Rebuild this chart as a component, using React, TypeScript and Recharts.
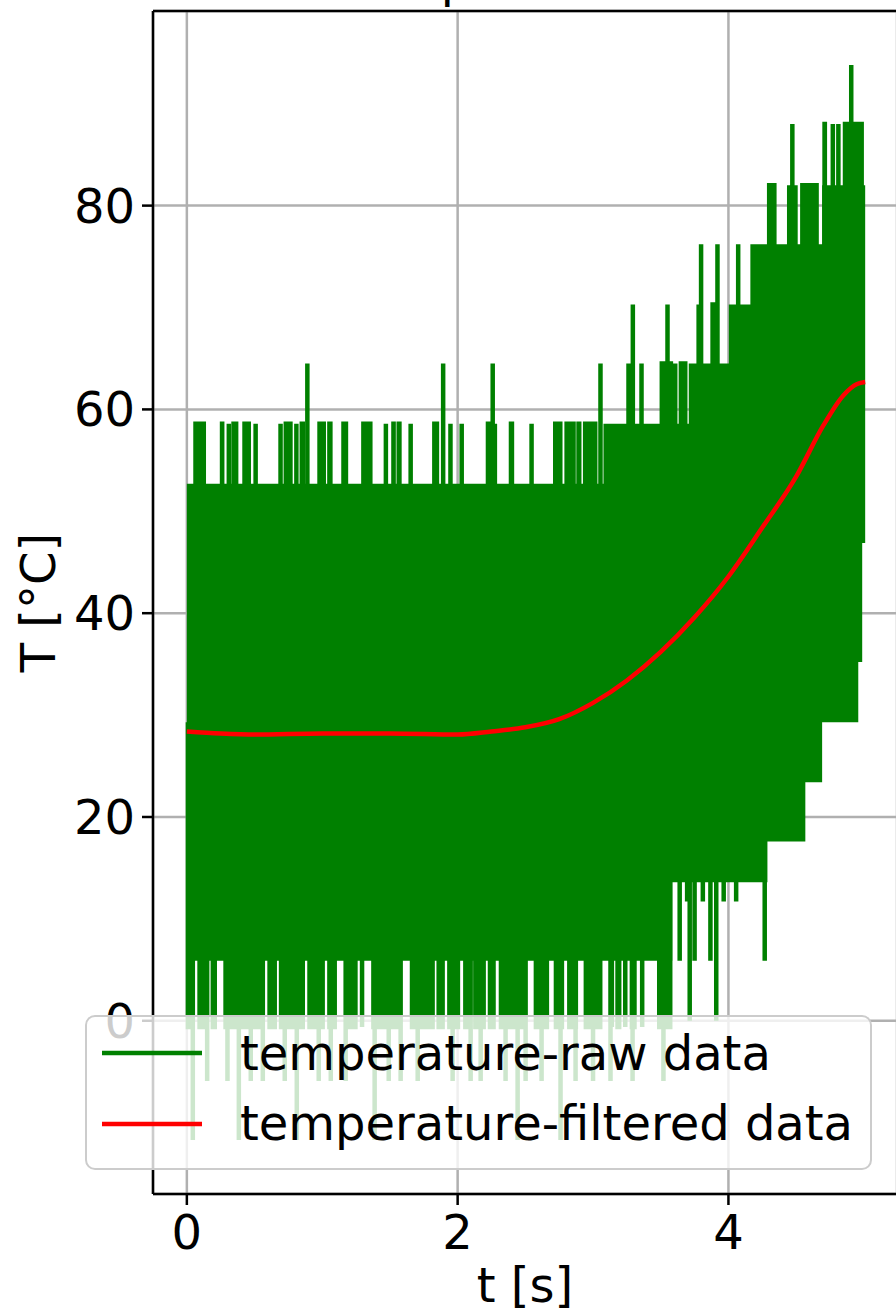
import {
  Area,
  CartesianGrid,
  ComposedChart,
  Legend,
  Line,
  ReferenceLine,
  XAxis,
  YAxis,
} from 'recharts'

const FONT = 'DejaVu Sans'
const GREEN = '#008000'
const RED = '#ff0000'

const xTicks = [0, 2, 4]
const yTicks = [0, 20, 40, 60, 80]
const xDomain: [number, number] = [-0.25, 5.245]
const yDomain: [number, number] = [-17, 99.1]

// solid body of the raw signal, as steps (t [s], lower / upper level [°C])
const coreT = [0, 3.077, 3.585, 3.707, 4.003, 4.162, 4.288, 4.568, 4.692, 4.959, 4.988, 5.01]
const coreLo = [5.9, 5.9, 13.6, 13.6, 13.6, 13.6, 17.6, 23.4, 29.3, 35.2, 46.9, 46.9]
const coreHi = [52.7, 58.6, 58.6, 64.5, 70.3, 76.2, 76.2, 76.2, 82.0, 82.0, 82.0, 82.0]

// raw samples sticking out above the body
const upStart = [
  0.064, 0.26, 0.31, 0.345, 0.426, 0.508, 0.692, 0.731, 0.809, 0.849, 0.89, 0.98, 1.053,
  1.157, 1.304, 1.47, 1.526, 1.565, 1.653, 1.828, 1.893, 1.947, 2.03, 2.224, 2.259, 2.275,
  2.394, 2.546, 2.721, 2.805, 2.893, 2.942, 3.055, 3.262, 3.294, 3.358, 3.508, 3.55, 3.57,
  3.607, 3.649, 3.78, 3.798, 3.883, 3.919, 4.072, 4.301, 4.449, 4.472, 4.495, 4.546, 4.71,
  4.771, 4.812, 4.861, 4.907, 4.93,
]
const upEnd = [
  0.125, 0.261, 0.31, 0.364, 0.457, 0.508, 0.692, 0.765, 0.809, 0.856, 0.89, 1.011, 1.06,
  1.175, 1.355, 1.47, 1.527, 1.57, 1.653, 1.847, 1.893, 1.947, 2.03, 2.24, 2.259, 2.275,
  2.401, 2.546, 2.758, 2.856, 2.898, 3.016, 3.055, 3.262, 3.294, 3.358, 3.53, 3.55, 3.575,
  3.607, 3.681, 3.78, 3.798, 3.89, 3.919, 4.072, 4.339, 4.449, 4.472, 4.495, 4.651, 4.712,
  4.771, 4.812, 4.885, 4.907, 4.984,
]
const upPeak = [
  58.6, 58.6, 58.6, 58.6, 58.6, 58.6, 58.6, 58.6, 58.6, 58.6, 64.5, 58.6, 58.6,
  58.6, 58.6, 58.6, 58.6, 58.6, 58.6, 58.6, 64.5, 58.6, 58.6, 58.6, 64.5, 58.6,
  58.6, 58.6, 58.6, 58.6, 58.6, 58.6, 64.5, 64.5, 70.3, 64.5, 64.5, 70.3, 64.5,
  64.5, 64.5, 70.3, 76.2, 70.3, 76.2, 76.2, 82.0, 82.0, 88.0, 82.0, 82.0, 88.0,
  88.0, 88.0, 88.0, 93.8, 88.0,
]

// raw samples dropping below the body
const downStart = [
  0.008, 0.094, 0.192, 0.286, 0.611, 0.696, 0.906, 1.053, 1.188, 1.294, 1.378, 1.663, 1.86,
  1.939, 2.057, 2.131, 2.239, 2.32, 2.382, 2.578, 2.726, 2.825, 2.947, 3.139, 3.181, 3.238,
  3.287, 3.363, 3.489, 3.64, 3.695, 3.714, 3.75, 3.811, 3.867, 3.91, 3.965, 4.057, 4.268,
]
const downEnd = [
  0.039, 0.142, 0.206, 0.531, 0.649, 0.856, 1.003, 1.092, 1.245, 1.294, 1.57, 1.815, 1.889,
  2.002, 2.076, 2.192, 2.265, 2.327, 2.499, 2.659, 2.77, 2.873, 3.053, 3.139, 3.193, 3.238,
  3.306, 3.363, 3.57, 3.64, 3.695, 3.714, 3.75, 3.811, 3.867, 3.91, 3.965, 4.057, 4.268,
]
const downPeak = [
  -0.6, -0.6, -0.6, -0.6, -0.6, -0.6, -0.6, -0.6, -0.6, -0.6, -0.6, -0.6, -0.6,
  -0.6, -0.6, -0.6, -0.6, -0.6, -0.6, -0.6, -0.6, -0.6, -0.6, -0.6, -0.6, -0.6,
  -0.6, -0.6, -0.6, 5.9, 11.7, 0, 5.9, 11.7, 5.9, 0, 11.7, 11.7, 5.9,
]

// single deep spikes (mostly hidden behind the legend)
const dipT = [
  0.044, 0.15, 0.3, 0.384, 0.472, 0.561, 0.723, 0.812, 0.974, 1.063, 1.173, 1.387, 1.491,
  1.579, 1.705, 1.963, 2.096, 2.17, 2.354, 2.443, 2.502, 2.62, 2.76, 2.871, 3.0, 3.129,
  3.292, 3.52,
]
const dipV = [
  -11.7, -5.9, -5.9, -11.7, -5.9, -5.9, -5.9, -11.7, -5.9, -5.9, -5.9, -11.7, -5.9,
  -5.9, -5.9, -5.9, -5.9, -5.9, -5.9, -11.7, -5.9, -5.9, -11.7, -5.9, -5.9, -5.9,
  -5.9, -5.9,
]

// filtered signal
const filtT = [0, 0.25, 0.5, 1.0, 1.5, 2.0, 2.25, 2.5, 2.75, 3.0, 3.25, 3.5, 3.75, 4.0, 4.25, 4.5, 4.7, 4.85, 4.95, 5.01]
const filtV = [28.4, 28.2, 28.1, 28.2, 28.2, 28.1, 28.4, 28.8, 29.6, 31.2, 33.4, 36.2, 39.6, 43.6, 48.4, 53.4, 58.4, 61.4, 62.5, 62.7]

const legendLabels = ['temperature-raw data', 'temperature-filtered data']
const legendColors = [GREEN, RED]

const baseAt = (t: number) => {
  let i = 0
  while (i + 1 < coreT.length && coreT[i + 1] <= t) i++
  return (coreLo[i] + coreHi[i]) / 2
}

type Excursion = [number, number, number]

// each excursion becomes a filled block from the body out to its peak
const toRows = (list: Excursion[]) =>
  [...list]
    .sort((a, b) => a[0] - b[0])
    .flatMap(([s, e, p]) => [
      { t: s, r: [baseAt(s), baseAt(s)] },
      { t: s, r: [baseAt(s), p] },
      { t: e, r: [baseAt(e), p] },
      { t: e, r: [baseAt(e), baseAt(e)] },
    ])

const coreRows = coreT.map((t, i) => ({ t, r: [coreLo[i], coreHi[i]] }))
const upRows = toRows(upStart.map((s, i) => [s, upEnd[i], upPeak[i]] as Excursion))
const downRows = toRows([
  ...downStart.map((s, i) => [s, downEnd[i], downPeak[i]] as Excursion),
  ...dipT.map((t, i) => [t, t, dipV[i]] as Excursion),
])
const filtRows = filtT.map((t, i) => ({ t, v: filtV[i] }))

const axisStyle = { stroke: '#000', strokeWidth: 2.5 }
const tickStyle = { fill: '#000', fontSize: 48, fontFamily: FONT }

function LegendBox() {
  return (
    <svg width={787} height={155} style={{ display: 'block' }}>
      <rect
        x={1}
        y={1}
        width={785}
        height={153}
        rx={9}
        fill="rgba(255,255,255,0.8)"
        stroke="#cccccc"
        strokeWidth={2}
      />
      {legendLabels.map((label, i) => (
        <g key={label}>
          <line
            x1={17}
            x2={117}
            y1={38 + i * 71}
            y2={38 + i * 71}
            stroke={legendColors[i]}
            strokeWidth={4.5}
          />
          <text x={155} y={55 + i * 70} fontSize={48} fontFamily={FONT} fill="#000">
            {label}
          </text>
        </g>
      ))}
    </svg>
  )
}

export default function App() {
  return (
    <div
      style={{
        position: 'absolute',
        left: 0,
        top: 0,
        width: 896,
        height: 1316,
        overflow: 'hidden',
        background: '#fff',
        fontFamily: FONT,
      }}
    >
      <ComposedChart width={904} height={1316} margin={{ top: 11, right: 7, bottom: 0, left: 0 }}>
        <CartesianGrid stroke="#b0b0b0" strokeWidth={2.5} />
        <XAxis
          dataKey="t"
          type="number"
          domain={xDomain}
          ticks={xTicks}
          interval={0}
          allowDataOverflow
          height={122}
          tickSize={11}
          tickMargin={10}
          tick={tickStyle}
          tickLine={axisStyle}
          axisLine={axisStyle}
          label={(p: any) => (
            <text
              x={p.viewBox.x + p.viewBox.width / 2}
              y={1302}
              textAnchor="middle"
              fontSize={48}
              fontFamily={FONT}
              fill="#000"
            >
              t [s]
            </text>
          )}
        />
        <YAxis
          type="number"
          domain={yDomain}
          ticks={yTicks}
          interval={0}
          allowDataOverflow
          width={153}
          tickSize={11}
          tickMargin={7}
          tick={tickStyle}
          tickLine={axisStyle}
          axisLine={axisStyle}
          label={(p: any) => {
            const cy = p.viewBox.y + p.viewBox.height / 2
            return (
              <text
                x={55}
                y={cy}
                transform={`rotate(-90, 55, ${cy})`}
                textAnchor="middle"
                fontSize={48}
                fontFamily={FONT}
                fill="#000"
              >
                T [°C]
              </text>
            )
          }}
        />
        <ReferenceLine
          y={yDomain[1]}
          stroke="#000"
          strokeWidth={2.5}
          ifOverflow="visible"
          label={(p: any) => (
            <text
              x={p.viewBox.x + p.viewBox.width / 2 + 32}
              y={-3}
              textAnchor="middle"
              fontSize={48}
              fontFamily={FONT}
              fill="#000"
            >
              Temperature data
            </text>
          )}
        />
        <Area
          data={coreRows}
          dataKey="r"
          type="stepAfter"
          stroke="none"
          fill={GREEN}
          fillOpacity={1}
          isAnimationActive={false}
        />
        <Area
          data={upRows}
          dataKey="r"
          type="linear"
          stroke={GREEN}
          strokeWidth={4.5}
          fill={GREEN}
          fillOpacity={1}
          dot={false}
          activeDot={false}
          isAnimationActive={false}
        />
        <Area
          data={downRows}
          dataKey="r"
          type="linear"
          stroke={GREEN}
          strokeWidth={4.5}
          fill={GREEN}
          fillOpacity={1}
          dot={false}
          activeDot={false}
          isAnimationActive={false}
        />
        <Line
          data={filtRows}
          dataKey="v"
          type="monotone"
          stroke={RED}
          strokeWidth={4.5}
          dot={false}
          isAnimationActive={false}
        />
        <Legend
          layout="horizontal"
          verticalAlign="middle"
          align="center"
          content={() => <LegendBox />}
          wrapperStyle={{ left: 85, top: 1015, width: 787, height: 155, margin: 0, padding: 0 }}
        />
      </ComposedChart>
    </div>
  )
}
